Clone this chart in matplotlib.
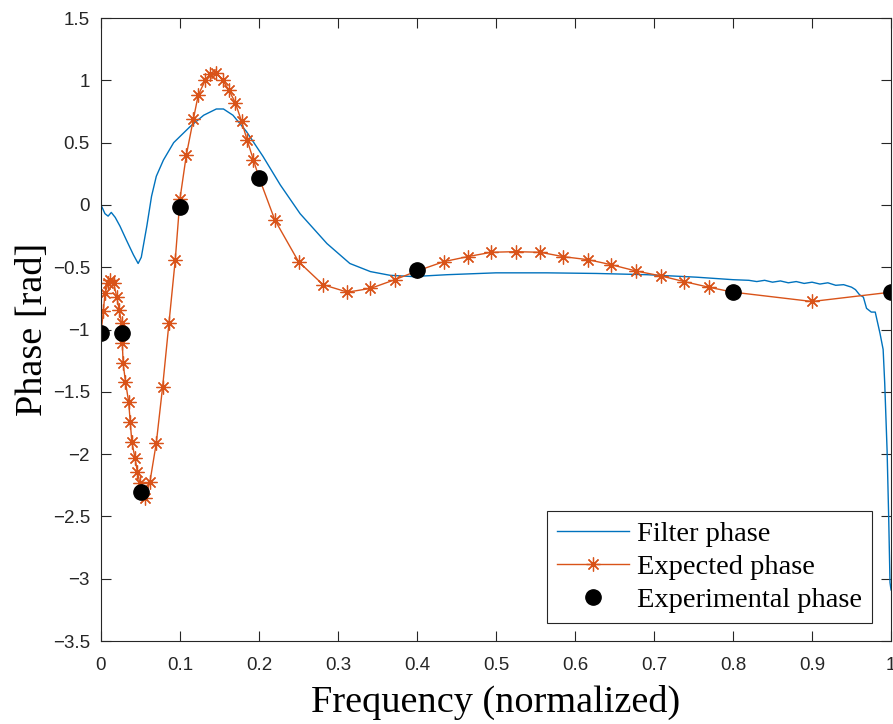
import numpy as np
import matplotlib
matplotlib.use('Agg')
import matplotlib.pyplot as plt

# filter phase (blue)
filt_f = [0, 0.005, 0.009, 0.013, 0.018, 0.024, 0.032, 0.041, 0.047, 0.051, 0.058, 0.064,
          0.070, 0.079, 0.092, 0.113, 0.130, 0.146, 0.155, 0.167, 0.184, 0.205, 0.227, 0.252,
          0.286, 0.315, 0.341, 0.366, 0.395, 0.438, 0.50, 0.564, 0.627, 0.691, 0.754, 0.80,
          0.82, 0.83, 0.84, 0.85, 0.86, 0.87, 0.88, 0.89, 0.90, 0.91, 0.92, 0.93, 0.94, 0.95,
          0.955, 0.960, 0.965, 0.969, 0.975, 0.980, 0.986, 0.990, 0.992, 0.995, 0.997, 0.9987, 1.0]
filt_ph = [0, -0.07, -0.09, -0.06, -0.10, -0.17, -0.28, -0.40, -0.47, -0.42, -0.17, 0.07,
           0.23, 0.36, 0.50, 0.63, 0.72, 0.77, 0.77, 0.72, 0.59, 0.39, 0.16, -0.07,
           -0.31, -0.47, -0.535, -0.565, -0.575, -0.56, -0.545, -0.545, -0.55, -0.56, -0.58, -0.60,
           -0.605, -0.615, -0.605, -0.62, -0.61, -0.625, -0.615, -0.63, -0.62, -0.635, -0.625, -0.645, -0.64, -0.66,
           -0.68, -0.72, -0.74, -0.83, -0.86, -0.86, -1.03, -1.16, -1.43, -1.97, -2.50, -3.03, -3.09]

# expected phase (orange, asterisks)
exp_f = [0, 0.003, 0.005, 0.009, 0.012, 0.016, 0.020, 0.023, 0.026, 0.027, 0.028, 0.031,
         0.035, 0.037, 0.039, 0.043, 0.046, 0.049, 0.056, 0.062, 0.070, 0.078, 0.086, 0.094,
         0.100, 0.108, 0.117, 0.123, 0.132, 0.138, 0.146, 0.154, 0.162, 0.170, 0.178, 0.185,
         0.193, 0.200, 0.220, 0.250, 0.281, 0.312, 0.341, 0.372, 0.400, 0.434, 0.464, 0.494,
         0.525, 0.556, 0.585, 0.617, 0.646, 0.677, 0.709, 0.738, 0.769, 0.800, 0.900, 1.000]
exp_ph = [-1.03, -0.85, -0.71, -0.63, -0.60, -0.63, -0.74, -0.84, -0.95, -1.11, -1.27, -1.42,
          -1.58, -1.74, -1.90, -2.03, -2.14, -2.23, -2.35, -2.22, -1.91, -1.46, -0.95, -0.44,
          0.05, 0.40, 0.69, 0.88, 1.00, 1.05, 1.06, 1.00, 0.92, 0.82, 0.67, 0.52,
          0.36, 0.22, -0.12, -0.455, -0.64, -0.70, -0.67, -0.60, -0.53, -0.455, -0.415, -0.38,
          -0.375, -0.38, -0.415, -0.44, -0.48, -0.53, -0.57, -0.615, -0.66, -0.70, -0.775, -0.70]

# experimental phase (black dots)
meas_f = [0, 0.027, 0.05, 0.1, 0.2, 0.4, 0.8, 1.0]
meas_ph = [-1.03, -1.03, -2.30, -0.02, 0.22, -0.52, -0.70, -0.70]

xtick_labels = ['0', '0.1', '0.2', '0.3', '0.4', '0.5', '0.6', '0.7', '0.8', '0.9', '1']
ytick_labels = ['\u22123.5', '\u22123', '\u22122.5', '\u22122', '\u22121.5', '\u22121',
                '\u22120.5', '0', '0.5', '1', '1.5']

fig = plt.figure(figsize=(8.93, 7.24), dpi=100)
ax = fig.add_axes([0.1131, 0.1146, 0.8847, 0.8605])

ax.plot(filt_f, filt_ph, color='#0072BD', lw=1.0, label='Filter phase')
ax.plot(exp_f, exp_ph, color='#D95319', lw=1.0, marker=(8, 2, 0), ms=10, mew=0.9,
        label='Expected phase')
ax.plot(meas_f, meas_ph, 'o', color='black', ms=11, label='Experimental phase')

ax.set_xlim(0, 1)
ax.set_ylim(-3.5, 1.5)
ax.set_xticks(np.arange(0, 1.01, 0.1))
ax.set_xticklabels(xtick_labels)
ax.set_yticks(np.arange(-3.5, 1.51, 0.5))
ax.set_yticklabels(ytick_labels)
ax.tick_params(direction='in', length=7, width=0.8, colors='#262626', labelsize=13.5,
               top=True, right=True, pad=8)
ax.tick_params(axis='x', pad=11.5)
for lab in ax.get_xticklabels() + ax.get_yticklabels():
    lab.set_fontfamily('Liberation Sans')
for sp in ax.spines.values():
    sp.set_color('#262626')
    sp.set_linewidth(0.8)

ax.set_xlabel('Frequency (normalized)', fontsize=27.5, family='Liberation Serif', labelpad=8)
ax.set_ylabel('Phase [rad]', fontsize=27.5, family='Liberation Serif', labelpad=2)

leg = ax.legend(loc='lower right', bbox_to_anchor=(0.976, 0.029), borderaxespad=0,
                prop={'family': 'Liberation Serif', 'size': 20.5},
                fancybox=False, framealpha=1, edgecolor='#262626',
                handlelength=2.5, handletextpad=0.3, labelspacing=0.25, borderpad=0.35)
leg.get_frame().set_linewidth(0.8)

fig.savefig('out.png', dpi=100)
